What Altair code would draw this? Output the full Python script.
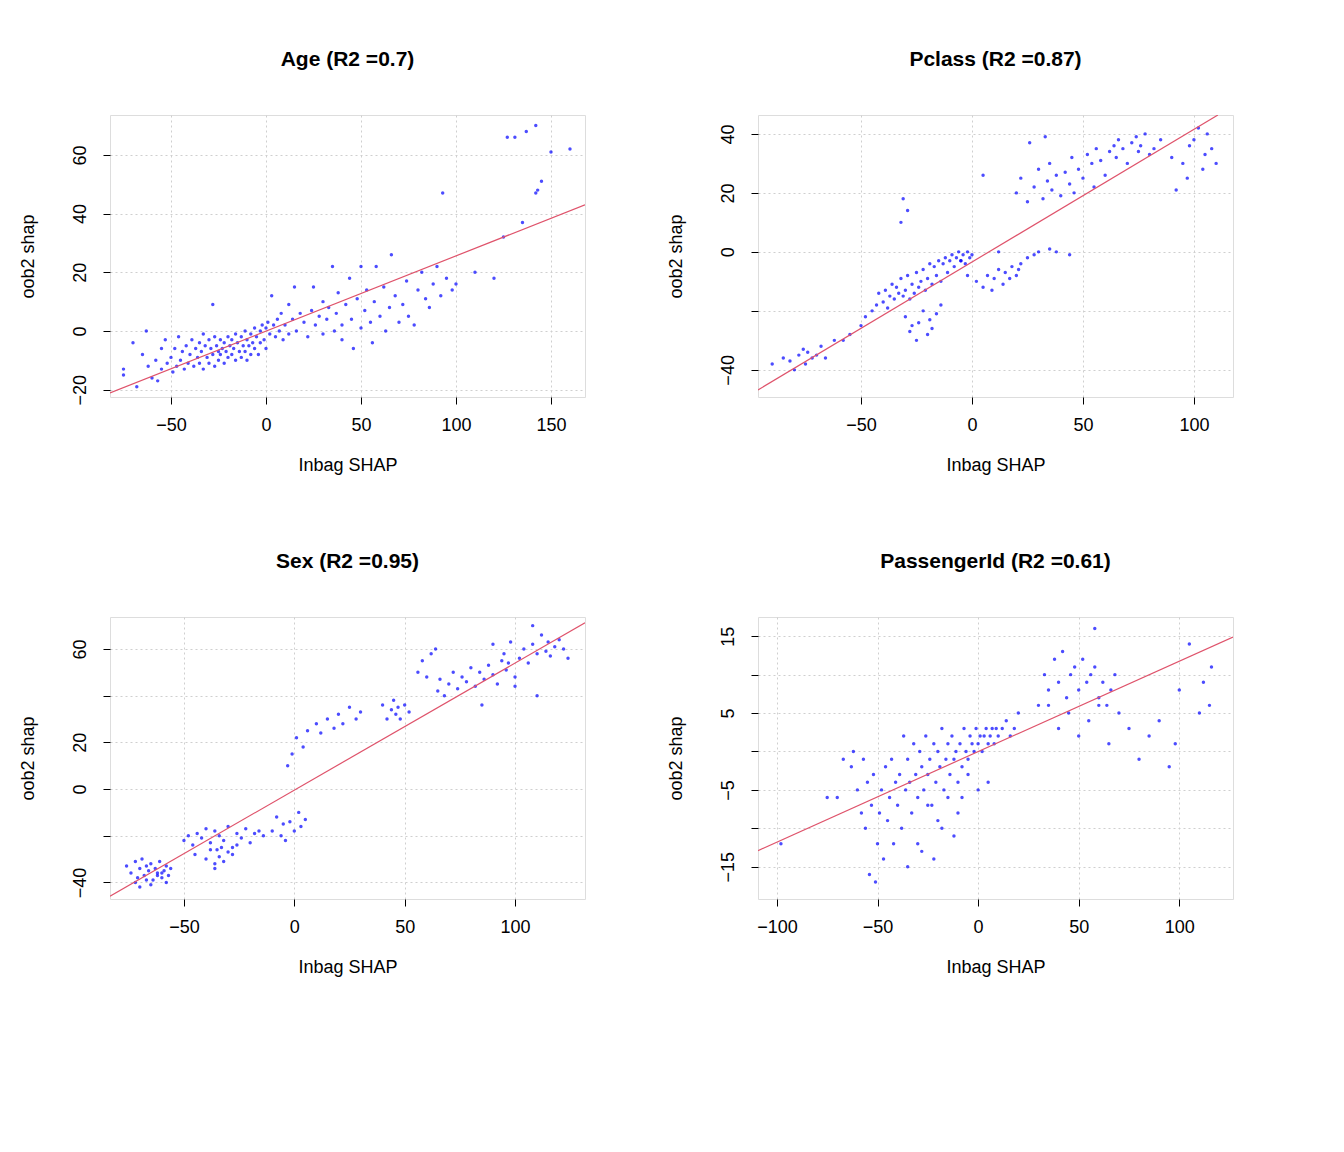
import altair as alt
import pandas as pd

# ---------------- data ----------------
age_x = [-75,-75,-70,-68,-65,-63,-62,-60,-58,-57,-55,-55,-53,-52,-50,-49,-48,-47,-46,-45,-44,-43,-42,-41,-40,-39,-38,-37,-36,-35,-35,-34,-33,-33,-32,-31,-30,-30,-29,-28,-28,-27,-27,-26,-25,-25,-24,-24,-23,-22,-22,-21,-20,-20,-19,-18,-18,-17,-16,-16,-15,-14,-13,-13,-12,-11,-11,-10,-10,-9,-8,-8,-7,-6,-6,-5,-4,-3,-3,-2,-1,0,0,1,2,3,4,5,6,7,8,9,10,12,12,14,15,16,18,20,22,24,25,26,28,30,30,32,33,35,36,37,38,40,40,42,44,45,46,48,50,50,52,53,55,56,57,58,60,62,63,65,66,68,70,72,74,75,78,80,82,84,86,88,90,92,95,98,100,93,110,120,125,135,127,131,137,142,142,143,145,150,160]
age_y = [-13,-15,-4,-19,-8,0,-12,-16,-10,-17,-6,-13,-3,-11,-9,-14,-6,-12,-2,-10,-7,-13,-5,-11,-8,-3,-12,-6,-9,-4,-11,-7,-1,-13,-5,-9,-3,-11,-6,-8,9,-2,-12,-5,-7,-10,-3,-8,-6,-4,-11,-7,-2,-9,-5,-3,-8,-6,-1,-10,-4,-7,-2,-9,-5,0,-7,-3,-10,-5,-1,-8,-4,1,-6,-2,-8,0,-4,2,-3,1,-6,3,-1,12,2,-2,4,0,6,-3,2,9,-1,4,15,0,6,3,-2,7,15,2,5,10,-1,4,8,22,0,6,13,2,-3,9,18,4,-6,11,1,22,7,14,3,-4,10,22,5,15,0,8,26,12,3,9,17,5,2,14,20,11,8,16,22,12,18,14,16,47,20,18,32,37,66,66,68,70,47,48,51,61,62]

pcl_x = [-90,-85,-82,-80,-78,-76,-75,-74,-72,-70,-68,-66,-62,-58,-55,-50,-48,-45,-43,-42,-40,-39,-38,-37,-36,-35,-34,-33,-32,-31,-30,-29,-28,-27,-26,-25,-24,-23,-22,-21,-20,-19,-18,-17,-16,-15,-14,-13,-12,-11,-10,-9,-8,-7,-6,-5,-4,-3,-2,-1,0,-30,-28,-27,-25,-24,-22,-20,-19,-18,-16,-14,-32,-31,-29,-5,-2,2,5,7,9,10,12,14,15,17,18,20,21,22,25,28,30,35,5,20,22,25,28,30,32,34,35,36,38,40,42,44,45,46,48,50,52,54,55,56,58,60,62,64,65,66,68,70,72,74,75,76,78,80,82,85,90,92,95,97,98,100,102,104,105,106,108,110,26,33,38,44,12]
pcl_y = [-38,-36,-37,-40,-35,-33,-38,-34,-36,-35,-32,-36,-30,-30,-28,-25,-22,-20,-18,-14,-17,-13,-19,-15,-11,-16,-12,-14,-9,-15,-13,-8,-16,-11,-14,-7,-12,-10,-6,-13,-9,-4,-11,-5,-8,-3,-10,-4,-2,-7,-3,-1,-5,-2,0,-3,-1,-4,0,-2,-1,-22,-27,-25,-30,-24,-20,-28,-23,-26,-21,-18,10,18,14,-3,-8,-10,-12,-8,-13,-9,-6,-11,-7,-9,-5,-8,-6,-4,-2,-1,0,1,26,20,25,17,22,28,18,24,30,21,26,19,27,23,32,20,28,25,33,30,22,35,31,26,34,36,32,38,35,30,37,39,34,36,40,33,35,38,32,21,30,25,36,38,42,28,33,40,35,30,37,39,0,-1,0,-1,15]

sex_x = [-76,-74,-72,-71,-70,-69,-68,-67,-66,-65,-64,-63,-62,-61,-60,-59,-58,-57,-56,-72,-70,-67,-65,-62,-60,-58,-50,-48,-46,-44,-42,-40,-38,-36,-35,-34,-32,-30,-28,-26,-24,-22,-20,-18,-16,-14,-45,-40,-38,-36,-34,-32,-30,-28,-26,-36,-33,-10,-8,-6,-5,-4,-2,0,2,3,5,-3,-1,1,4,6,10,12,15,18,20,22,25,28,30,40,42,44,45,46,47,48,50,52,64,62,60,58,56,65,66,68,70,72,74,76,78,80,82,84,86,88,90,92,94,95,96,98,100,102,104,106,108,110,112,114,115,116,118,120,122,124,90,100,110,108,97,85]
sex_y = [-33,-36,-31,-38,-34,-30,-37,-33,-35,-32,-39,-34,-36,-31,-38,-35,-33,-37,-34,-40,-42,-39,-41,-37,-36,-40,-22,-20,-24,-19,-21,-17,-23,-18,-26,-20,-22,-16,-25,-19,-21,-17,-23,-19,-18,-20,-28,-30,-26,-32,-29,-31,-27,-28,-24,-34,-25,-18,-12,-20,-15,-22,-14,-18,-10,-16,-13,10,15,22,18,25,28,24,30,26,32,28,35,30,33,36,30,34,38,32,35,30,36,33,60,58,48,55,50,42,47,40,45,50,43,48,46,52,44,50,47,53,49,45,55,58,51,63,48,56,60,54,62,58,66,59,63,57,61,64,60,56,62,44,40,70,54,36,52]

pid_x = [-98,-75,-70,-67,-63,-62,-60,-58,-57,-56,-55,-54,-53,-52,-51,-50,-49,-48,-47,-46,-45,-44,-43,-42,-41,-40,-39,-38,-37,-36,-35,-34,-33,-32,-31,-30,-29,-28,-27,-26,-25,-24,-23,-22,-21,-20,-19,-18,-17,-16,-15,-14,-13,-12,-11,-10,-9,-8,-7,-6,-5,-4,-3,-2,-1,0,1,2,3,4,5,6,7,8,9,10,12,14,16,18,20,-25,-20,-15,-10,-5,0,5,-30,-22,-18,-12,-8,-35,-28,30,33,35,38,40,42,44,46,48,50,52,54,56,58,60,62,64,66,68,35,40,45,50,55,60,65,70,75,80,85,90,95,98,100,105,110,112,115,116,58]
pid_y = [-12,-6,-6,-1,-2,0,-5,-8,-1,-10,-4,-16,-7,-3,-17,-12,-8,-5,-14,-2,-9,-6,-1,-12,-4,-7,-3,-10,2,-5,-1,-4,-8,1,-3,-6,0,-2,-5,2,-3,-1,-7,1,-4,0,-2,3,-5,-1,1,-3,2,-1,0,-4,1,-2,3,0,-1,2,1,0,3,1,2,0,2,3,1,2,3,1,3,2,3,4,2,3,5,-7,-9,-6,-8,-3,-5,-4,-12,-14,-10,-11,-6,-15,-13,6,10,8,12,9,13,7,10,11,8,12,9,10,11,7,9,6,8,10,6,3,5,2,4,6,1,5,3,-1,2,4,-2,1,8,14,5,9,6,11,16,5,-9]

age_line_x = [-82.1, 167.9]
age_line_y = [-21.1, 43.0]
pcl_line_x = [-96.4, 110.8]
pcl_line_y = [-46.8, 46.4]
sex_line_x = [-83.5, 131.7]
sex_line_y = [-45.9, 71.2]
pid_line_x = [-109.4, 126.7]
pid_line_y = [-12.9, 14.9]

FONT = "Liberation Sans"

def panel(title, px, py, lx, ly, xdom, ydom, xticks, yticks, yshow):
    pairs = list(zip(px, py))
    pts = pd.DataFrame({"x": [p[0] for p in pairs], "y": [p[1] for p in pairs]})
    ln = pd.DataFrame({"x": lx, "y": ly})
    hide = " || ".join(f"datum.value == {v}" for v in yticks if v not in yshow) or "false"
    xax = alt.Axis(values=xticks, title="Inbag SHAP", grid=True, gridDash=[2, 3],
                   gridColor="#cfcfcf", domain=False, tickColor="black", tickSize=7,
                   labelFontSize=18, labelPadding=12, titleFontSize=18,
                   titleFontWeight="normal", titlePadding=22, labelFont=FONT,
                   titleFont=FONT, labelColor="black", titleColor="black", labelFlush=False)
    yax = alt.Axis(values=yticks, title="oob2 shap", grid=True, gridDash=[2, 3],
                   gridColor="#cfcfcf", domain=False, tickColor="black", tickSize=7,
                   labelFontSize=18, labelAngle=-90, labelAlign="center",
                   labelBaseline="bottom", labelPadding=14, titleFontSize=18,
                   titleFontWeight="normal", titlePadding=34, labelFont=FONT,
                   titleFont=FONT, labelColor="black", titleColor="black",
                   labelExpr=f"({hide}) ? '' : datum.label", labelFlush=False)
    xs = alt.Scale(domain=xdom, nice=False, zero=False)
    ys = alt.Scale(domain=ydom, nice=False, zero=False)
    p = alt.Chart(pts).mark_circle(size=12, color="#0000ff", opacity=0.7).encode(
        x=alt.X("x:Q", scale=xs, axis=xax), y=alt.Y("y:Q", scale=ys, axis=yax))
    l = alt.Chart(ln).mark_line(color="#df536b", strokeWidth=1.2, clip=True).encode(
        x=alt.X("x:Q", scale=xs), y=alt.Y("y:Q", scale=ys))
    return alt.layer(p, l).properties(
        width=475, height=282,
        title=alt.TitleParams(title, fontSize=21, font=FONT, fontWeight="bold", offset=45))

c1 = panel("Age (R2 =0.7)", age_x, age_y, age_line_x, age_line_y, [-82.1, 167.9], [-22.5, 73.6],
           [-50, 0, 50, 100, 150], [-20, 0, 20, 40, 60], [-20, 0, 20, 40, 60])
c2 = panel("Pclass (R2 =0.87)", pcl_x, pcl_y, pcl_line_x, pcl_line_y, [-96.4, 117.6], [-49.2, 46.4],
           [-50, 0, 50, 100], [-40, -20, 0, 20, 40], [-40, 0, 20, 40])
c3 = panel("Sex (R2 =0.95)", sex_x, sex_y, sex_line_x, sex_line_y, [-83.5, 131.7], [-47.1, 73.7],
           [-50, 0, 50, 100], [-40, -20, 0, 20, 40, 60], [-40, 0, 20, 60])
c4 = panel("PassengerId (R2 =0.61)", pid_x, pid_y, pid_line_x, pid_line_y, [-109.4, 126.7], [-19.2, 17.5],
           [-100, -50, 0, 50, 100], [-15, -10, -5, 0, 5, 10, 15], [-15, -5, 5, 15])

chart = alt.vconcat(
    alt.hconcat(c1, c2, spacing=80),
    alt.hconcat(c3, c4, spacing=80),
    spacing=75,
).configure_view(stroke="black", strokeWidth=1.2).configure(background="white", padding={"left": 10, "top": 40, "right": 5, "bottom": 5})

chart.save("out.html", embed_options={"renderer": "svg", "actions": False})
